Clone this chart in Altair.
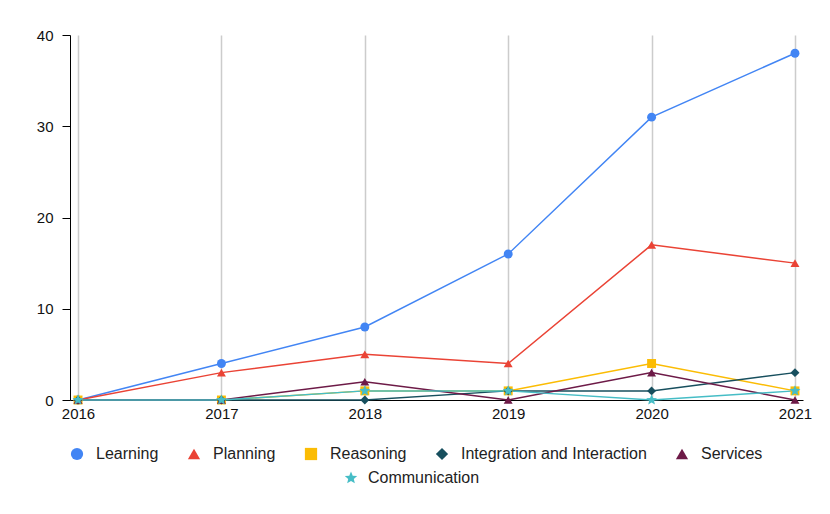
import altair as alt
import pandas as pd

years = ["2016", "2017", "2018", "2019", "2020", "2021"]
series_names = ["Learning", "Planning", "Reasoning", "Integration and Interaction", "Services", "Communication"]
learning = [0, 4, 8, 16, 31, 38]
planning = [0, 3, 5, 4, 17, 15]
reasoning = [0, 0, 1, 1, 4, 1]
integration = [0, 0, 0, 1, 1, 3]
services = [0, 0, 2, 0, 3, 0]
communication = [0, 0, 1, 1, 0, 1]
colors = ["#4285F4", "#EA4335", "#FBBC04", "#174F5E", "#6D1A47", "#46BDC6"]
STAR = ("M0,-1L0.265,-0.364L0.951,-0.309L0.428,0.139L0.588,0.809L0,0.45"
        "L-0.588,0.809L-0.428,0.139L-0.951,-0.309L-0.265,-0.364Z")
shapes = ["circle", "triangle-up", "square", "diamond", "triangle-up"]
y_ticks = [0, 10, 20, 30, 40]

values = [learning, planning, reasoning, integration, services, communication]
rows = []
for name, vals in zip(series_names, values):
    for y, v in zip(years, vals):
        rows.append({"year": y, "series": name, "value": v})
df = pd.DataFrame(rows)

FONT = "Liberation Sans"
main_names = series_names[:5]

x_enc = alt.X("year:O", scale=alt.Scale(type="point", padding=0.056),
              axis=alt.Axis(title=None, labelAngle=0, ticks=False, grid=True,
                            gridColor="#cccccc", gridWidth=1.5, domainColor="#000000",
                            labelFontSize=15, labelFont=FONT, labelColor="#111111",
                            labelPadding=6))
y_enc = alt.Y("value:Q", scale=alt.Scale(domain=[0, 40]),
              axis=alt.Axis(title=None, values=y_ticks, grid=False, domainColor="#000000",
                            tickColor="#000000", tickSize=8, labelPadding=9,
                            labelFontSize=15, labelFont=FONT, labelColor="#111111"))

lines = alt.Chart(df).mark_line(strokeWidth=1.5).encode(
    x=x_enc, y=y_enc,
    stroke=alt.Stroke("series:N", scale=alt.Scale(domain=series_names, range=colors), legend=None),
)

legend1 = alt.Legend(title=None, orient="none", legendX=-1, legendY=411,
                     direction="horizontal", symbolSize=150, labelOffset=11, columnPadding=27,
                     labelFontSize=16, labelFont=FONT, labelColor="#222222", labelLimit=400,
                     symbolStrokeWidth=0)

pts = alt.Chart(df).transform_filter(
    alt.FieldOneOfPredicate(field="series", oneOf=main_names)
).mark_point(filled=True, opacity=1, size=80).encode(
    x=x_enc, y=y_enc,
    color=alt.Color("series:N", scale=alt.Scale(domain=main_names, range=colors[:5]), legend=legend1),
    shape=alt.Shape("series:N", scale=alt.Scale(domain=main_names, range=shapes), legend=legend1),
)

pts_comm = alt.Chart(df).transform_filter(
    alt.FieldEqualPredicate(field="series", equal="Communication")
).mark_point(filled=True, shape=STAR, size=130, opacity=1).encode(
    x=x_enc, y=y_enc,
    fill=alt.Fill("series:N", scale=alt.Scale(domain=["Communication"], range=[colors[5]]),
                  legend=alt.Legend(title=None, orient="none", legendX=273, legendY=435,
                                    symbolType=STAR, symbolSize=170, labelOffset=9,
                                    labelFontSize=16, labelFont=FONT, labelColor="#222222",
                                    symbolStrokeWidth=0)),
)

chart = alt.layer(lines, pts, pts_comm).properties(
    width=733, height=365,
    padding={"left": 28, "top": 20, "right": 10, "bottom": 5},
).configure_view(stroke=None)

chart.save("out.html", embed_options={"renderer": "svg", "actions": False})
